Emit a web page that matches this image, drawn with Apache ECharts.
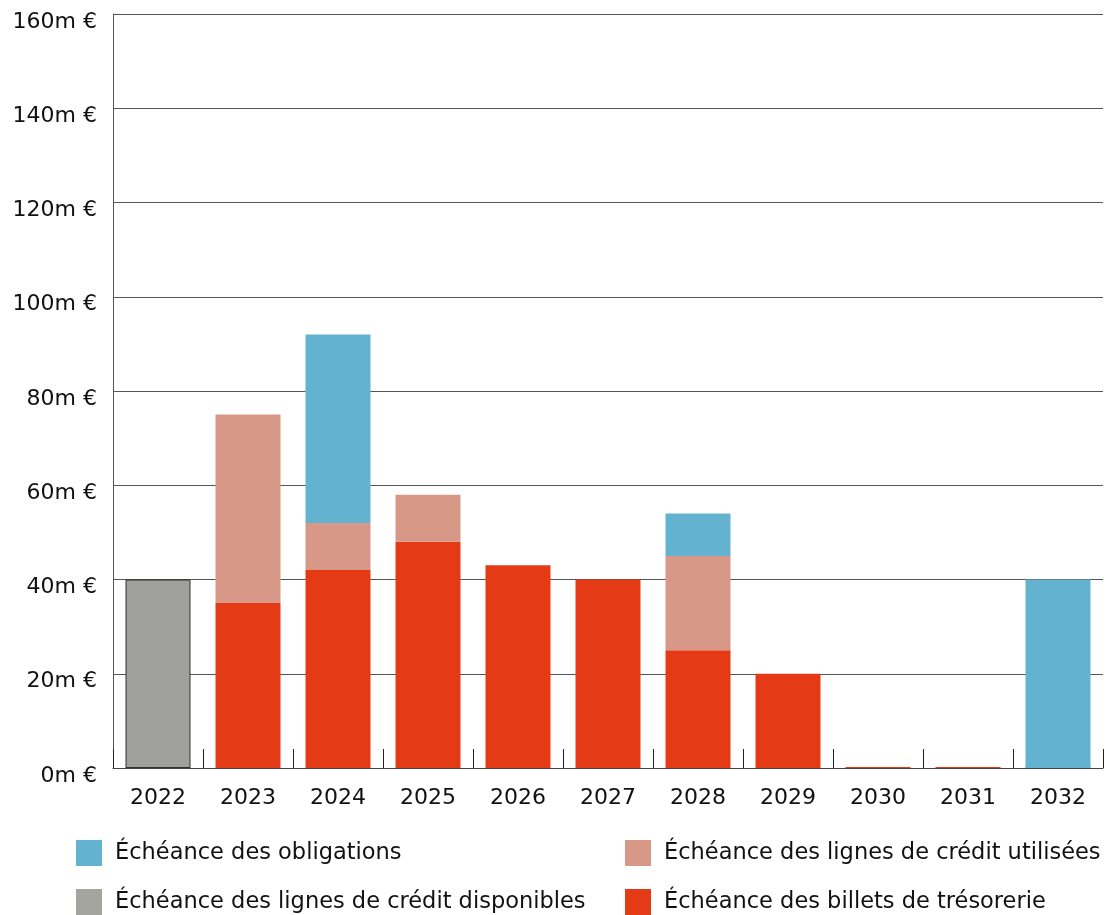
<!DOCTYPE html>
<html>
<head>
<meta charset="utf-8">
<script src="https://cdn.jsdelivr.net/npm/echarts@6/dist/echarts.min.js"></script>
<style>
  html, body { margin: 0; padding: 0; background: #fff; }
  #chart { width: 1106px; height: 915px; }
</style>
</head>
<body>
<div id="chart"></div>
<script>
  // années
  const years = ['2022', '2023', '2024', '2025', '2026', '2027', '2028', '2029', '2030', '2031', '2032'];
  // montants en m €
  const billets = [0, 35, 42, 48, 43, 40, 25, 20, 0, 0, 0];
  const lignesUtilisees = [0, 40, 10, 10, 0, 0, 20, 0, 0, 0, 0];
  const obligations = [0, 0, 40, 0, 0, 0, 9, 0, 0, 0, 40];
  const lignesDisponibles = [40, 0, 0, 0, 0, 0, 0, 0, 0, 0, 0];

  const names = {
    obl: 'Échéance des obligations',
    util: 'Échéance des lignes de crédit utilisées',
    dispo: 'Échéance des lignes de crédit disponibles',
    billets: 'Échéance des billets de trésorerie'
  };
  const font = '"DejaVu Sans", sans-serif';

  function nz(arr) {
    return arr.map(v => (v === 0 ? null : v));
  }

  // une légende par entrée, placée à la main
  function leg(left, top, item) {
    return {
      left: left, top: top,
      itemWidth: 26, itemHeight: 26,
      icon: 'rect',
      textStyle: { fontSize: 22.5, color: '#111', fontFamily: font, padding: [0, 0, 0, 8] },
      data: [item]
    };
  }

  let chart = echarts.init(document.getElementById('chart'));
  let option = {
    animation: false,
    textStyle: { fontFamily: font },
    grid: { left: 113, right: 3, top: 14, bottom: 147 },
    legend: [
      leg(71, 835, names.obl),
      leg(71, 884, { name: names.dispo, itemStyle: { color: '#a5a59f', borderWidth: 0 } }),
      leg(620, 835, names.util),
      leg(620, 884, names.billets)
    ],
    xAxis: {
      type: 'category',
      data: years,
      axisLine: { show: true, lineStyle: { color: '#444', width: 1 } },
      axisTick: { show: true, inside: true, length: 19, interval: 0, lineStyle: { color: '#222' } },
      axisLabel: { fontSize: 22, color: '#111', margin: 19, fontFamily: font }
    },
    yAxis: {
      type: 'value',
      min: 0, max: 160, interval: 20,
      axisLine: { show: true, lineStyle: { color: '#555', width: 1 } },
      axisTick: { show: false },
      splitLine: { lineStyle: { color: '#555', width: 1 } },
      axisLabel: {
        fontSize: 22, color: '#111', margin: 16, fontFamily: font,
        verticalAlign: 'top', lineHeight: 16,
        formatter: '{value}m €'
      }
    },
    series: [
      {
        name: names.billets, type: 'bar', stack: 'total', barWidth: 65,
        barMinHeight: 1,
        itemStyle: { color: '#e53a16' },
        data: billets
      },
      {
        name: names.util, type: 'bar', stack: 'total', barWidth: 65,
        itemStyle: { color: '#d79887' },
        data: nz(lignesUtilisees)
      },
      {
        name: names.obl, type: 'bar', stack: 'total', barWidth: 65,
        itemStyle: { color: '#63b2cf' },
        data: nz(obligations)
      },
      {
        name: names.dispo, type: 'bar', stack: 'total', barWidth: 65,
        itemStyle: { color: '#9f9f9d', borderColor: '#333', borderWidth: 1 },
        data: nz(lignesDisponibles)
      }
    ]
  };
  chart.setOption(option, true);
</script>
</body>
</html>
